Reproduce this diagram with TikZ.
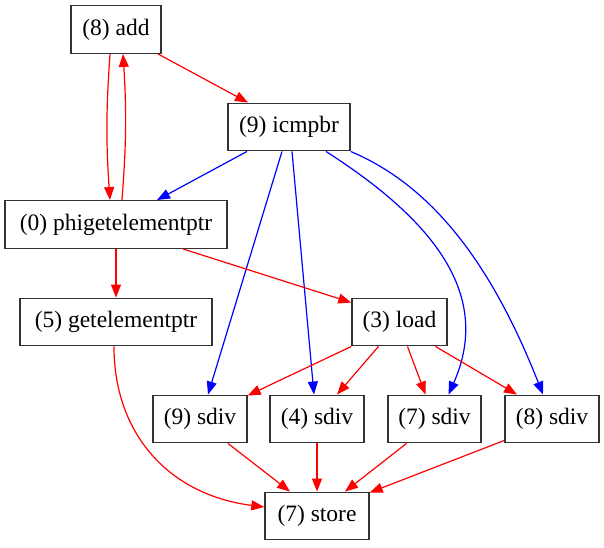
\documentclass[tikz,border=0pt]{standalone}
\usepackage{fontspec}
\setmainfont{Liberation Serif}
\usetikzlibrary{arrows.meta}
\begin{document}
\begin{tikzpicture}[x=1pt,y=-1pt,
  box/.style={draw=black!80,line width=1.4pt,rectangle,inner sep=0pt,minimum height=47.5pt,font=\fontsize{23.5}{27}\selectfont},
  red edge/.style={draw=red,line width=1.2pt,-{Triangle[length=13pt,width=10pt]}},
  blue edge/.style={draw=blue,line width=1.2pt,-{Triangle[length=13pt,width=10pt]}}]
\useasboundingbox (0,0) rectangle (604,547);
\node[box,minimum width=90pt] (add) at (116,29.5) {(8) add};
\node[box,minimum width=122pt] (icmp) at (289,127) {(9) icmpbr};
\node[box,minimum width=222pt] (phi) at (116,224.5) {(0) phigetelementptr};
\node[box,minimum width=192pt] (gep) at (116,322) {(5) getelementptr};
\node[box,minimum width=95pt] (load) at (399.5,322) {(3) load};
\node[box,minimum width=94pt] (s9) at (200,419) {(9) sdiv};
\node[box,minimum width=94pt] (s4) at (317,419) {(4) sdiv};
\node[box,minimum width=93pt] (s7) at (434.5,419) {(7) sdiv};
\node[box,minimum width=94pt] (s8) at (552,419) {(8) sdiv};
\node[box,minimum width=104pt] (store) at (317,516) {(7) store};
% add <-> phi
\draw[red edge] ([xshift=-6pt]add.south) to[bend right=4] ([xshift=-6pt]phi.north);
\draw[red edge] ([xshift=6pt]phi.north) to[bend right=4] ([xshift=7pt]add.south);
\draw[red edge] ([xshift=42pt]add.south) -- ([xshift=-41pt]icmp.north);
% icmpbr outgoing
\draw[blue edge] ([xshift=-42pt]icmp.south) -- ([xshift=41pt]phi.north);
\draw[blue edge] ([xshift=-7pt]icmp.south) -- ([xshift=8pt]s9.north);
\draw[blue edge] ([xshift=3pt]icmp.south) -- ([xshift=-3pt]s4.north);
\draw[blue edge] ([xshift=37pt]icmp.south) .. controls (425,215) and (495,290) .. ([xshift=14pt]s7.north);
\draw[blue edge] (icmp.south east) .. controls (430,185) and (490,260) .. ([xshift=-9pt]s8.north);
% phi outgoing
\draw[red edge] (phi.south) -- (gep.north);
\draw[red edge] ([xshift=67pt]phi.south) -- ([yshift=-5pt]load.north west);
% gep -> store
\draw[red edge] ([xshift=-2pt]gep.south) .. controls (114,435) and (170,495) .. ([yshift=9pt]store.west);
% load outgoing
\draw[red edge] (load.south west) -- ([yshift=-1pt]s9.north east);
\draw[red edge] ([xshift=-21pt]load.south) -- ([xshift=20pt]s4.north);
\draw[red edge] ([xshift=8pt]load.south) -- ([xshift=-9pt]s7.north);
\draw[red edge] ([xshift=36pt]load.south) -- ([xshift=-35pt]s8.north);
% sdivs -> store
\draw[red edge] ([xshift=28pt]s9.south) -- ([xshift=-27pt]store.north);
\draw[red edge] (s4.south) -- (store.north);
\draw[red edge] ([xshift=-28pt]s7.south) -- ([xshift=28pt]store.north);
\draw[red edge] ([yshift=3pt]s8.south west) -- ([yshift=-1pt]store.north east);
\end{tikzpicture}
\end{document}
